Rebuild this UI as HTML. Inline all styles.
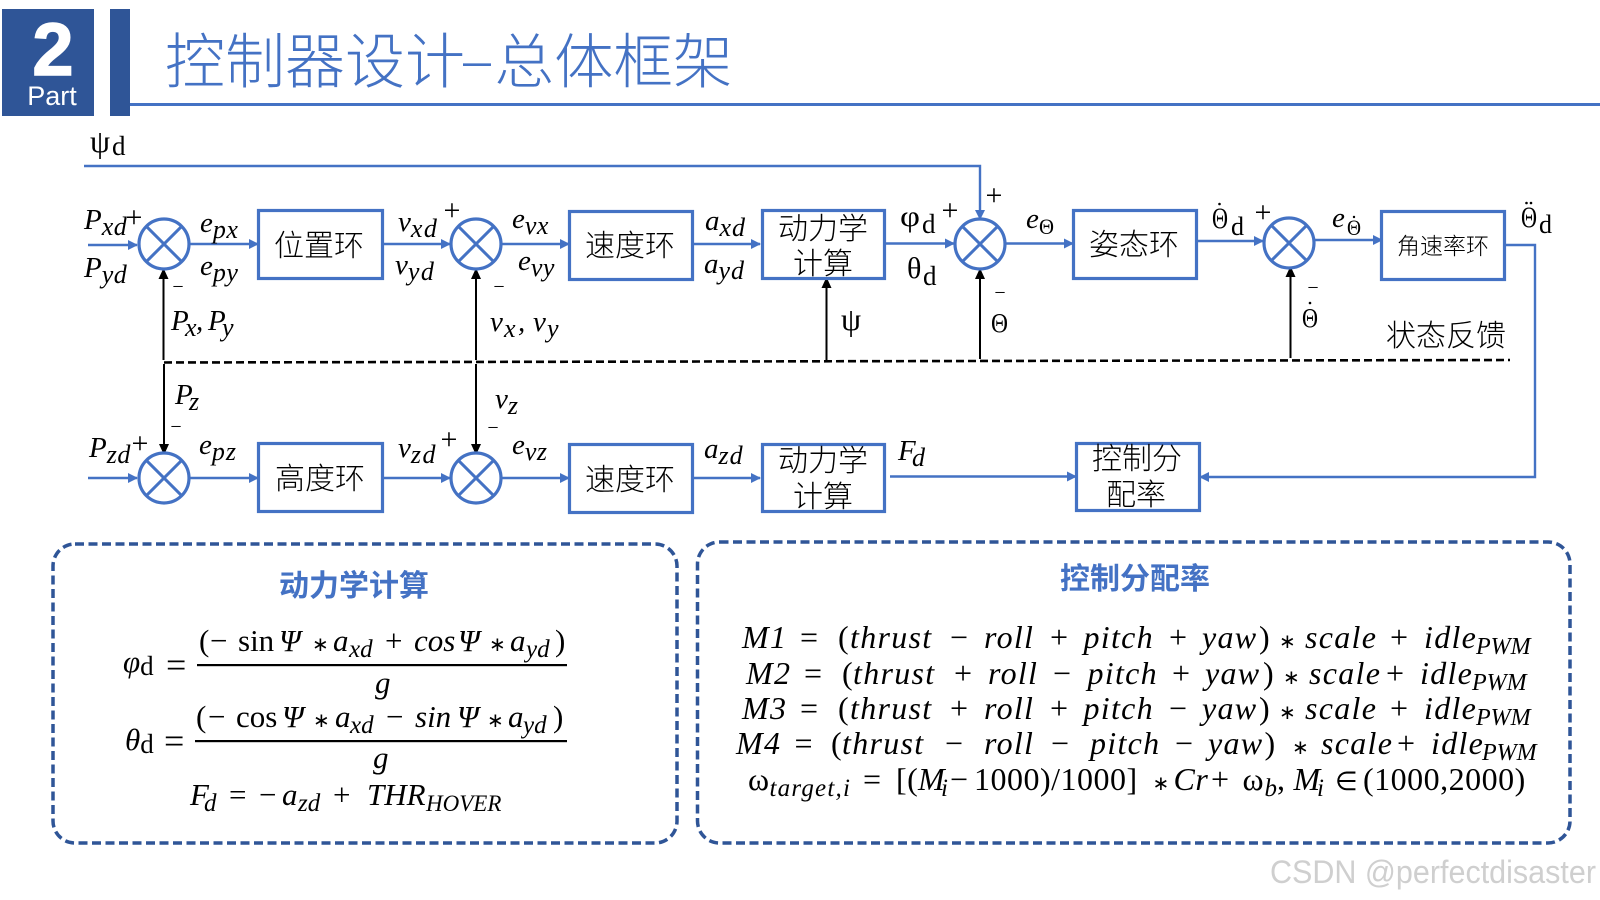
<!DOCTYPE html>
<html lang="zh">
<head>
<meta charset="utf-8">
<title>控制器设计-总体框架</title>
<style>
html,body{margin:0;padding:0;background:#fff;width:1600px;height:900px;overflow:hidden}
svg{display:block}
text{white-space:pre}
.m{font:italic 29px "Liberation Serif",serif;fill:#000}
.u{font:29px "Liberation Serif","DejaVu Serif",serif;fill:#000}
.s{font-size:26px;letter-spacing:.5px}
.c{font:300 30px "Noto Sans CJK SC","WenQuanYi Zen Hei",sans-serif;fill:#000;text-anchor:middle}
.t{font:bold 30px "Noto Sans CJK SC","WenQuanYi Zen Hei",sans-serif;fill:#4472C4;text-anchor:middle}
.e{font:italic 31px "Liberation Serif",serif;fill:#000}
.e .n{font-style:normal}
.e .s{font-size:25px;letter-spacing:0}
.e .a{font-style:normal;font-size:20px}
.r{font-size:32px;letter-spacing:1.3px}
.w{font-size:32px;letter-spacing:.5px}
.e .h{font-size:23px;letter-spacing:0}
.e .z{font-size:24px;letter-spacing:0}
.e .tg{font-size:25px;letter-spacing:1.2px}
.p{font:30px "Liberation Serif",serif;fill:#000;text-anchor:middle}
.q{font:20px "Liberation Serif",serif;fill:#000;text-anchor:middle}
.b{fill:#fff;stroke:#4472C4;stroke-width:3.2}
.l{fill:none;stroke:#4472C4;stroke-width:2.4}
.k{stroke:#000;stroke-width:2;fill:none}
.o{fill:#fff;stroke:#4472C4;stroke-width:3.2}
.x{stroke:#4472C4;stroke-width:3;fill:none}
</style>
</head>
<body>
<svg width="1600" height="900" viewBox="0 0 1600 900" xmlns="http://www.w3.org/2000/svg">
<defs>
<marker id="ab" markerWidth="10" markerHeight="10" refX="9" refY="5" orient="auto" markerUnits="userSpaceOnUse"><path d="M0 0L10 5L0 10Z" fill="#4472C4"/></marker>
<marker id="ak" markerWidth="10" markerHeight="12" refX="9" refY="5" orient="auto" markerUnits="userSpaceOnUse"><path d="M0 0L11 5L0 10Z" fill="#000"/></marker>
</defs>

<!-- header -->
<rect x="2" y="9" width="92" height="107" fill="#2F5597"/>
<rect x="110" y="9" width="20" height="107" fill="#2F5597"/>
<rect x="130" y="103" width="1470" height="3" fill="#4472C4"/>
<text x="53" y="75" text-anchor="middle" style="font:bold 74px 'Liberation Sans',sans-serif;fill:#fff;stroke:#fff;stroke-width:1.500">2</text>
<text x="52" y="105" text-anchor="middle" style="font:27px 'Liberation Sans',sans-serif;fill:#fff">Part</text>
<text x="165" y="83" style="font:300 60px 'Noto Sans CJK SC','WenQuanYi Zen Hei',sans-serif;fill:#4472C4">控制器设计</text>
<text x="463" y="75" textLength="28" lengthAdjust="spacingAndGlyphs" style="font:300 40px 'Liberation Sans',sans-serif;fill:#4472C4">–</text>
<text x="494.500" y="83" style="font:300 59.500px 'Noto Sans CJK SC','WenQuanYi Zen Hei',sans-serif;fill:#4472C4">总体框架</text>

<!-- blue connectors -->
<path class="l" d="M84 166H980V219" marker-end="url(#ab)"/>
<path class="l" d="M88 245H137" marker-end="url(#ab)"/>
<path class="l" d="M190 244H258" marker-end="url(#ab)"/>
<path class="l" d="M383 244H450" marker-end="url(#ab)"/>
<path class="l" d="M502 244H569" marker-end="url(#ab)"/>
<path class="l" d="M693 244H760" marker-end="url(#ab)"/>
<path class="l" d="M885 243.500H954" marker-end="url(#ab)"/>
<path class="l" d="M1006 243.500H1073" marker-end="url(#ab)"/>
<path class="l" d="M1197 241H1263" marker-end="url(#ab)"/>
<path class="l" d="M1315 240H1382" marker-end="url(#ab)"/>
<path class="l" d="M1505 245H1535V477H1200" marker-end="url(#ab)"/>
<path class="l" d="M88 478H137" marker-end="url(#ab)"/>
<path class="l" d="M190 478H258" marker-end="url(#ab)"/>
<path class="l" d="M383 478H450" marker-end="url(#ab)"/>
<path class="l" d="M502 478H569" marker-end="url(#ab)"/>
<path class="l" d="M693 478H760" marker-end="url(#ab)"/>
<path class="l" d="M890 476.500H1076" marker-end="url(#ab)"/>

<!-- black feedback -->
<path class="k" d="M163.500 360V270" marker-end="url(#ak)"/>
<path class="k" d="M476 360V270" marker-end="url(#ak)"/>
<path class="k" d="M826.500 360V279" marker-end="url(#ak)"/>
<path class="k" d="M980 359V270" marker-end="url(#ak)"/>
<path class="k" d="M1290.500 358V268" marker-end="url(#ak)"/>
<path class="k" d="M164 364V453" marker-end="url(#ak)"/>
<path class="k" d="M476 364V453" marker-end="url(#ak)"/>
<path d="M164 362.500L1510 360" stroke="#000" stroke-width="2.600" stroke-dasharray="8 4" fill="none"/>

<!-- summing junctions -->
<g>
<circle class="o" cx="164" cy="244" r="25"/><path class="x" d="M146.300 226.300L181.700 261.700M181.700 226.300L146.300 261.700"/>
<circle class="o" cx="476" cy="244" r="25"/><path class="x" d="M458.300 226.300L493.700 261.700M493.700 226.300L458.300 261.700"/>
<circle class="o" cx="980" cy="244" r="25"/><path class="x" d="M962.300 226.300L997.700 261.700M997.700 226.300L962.300 261.700"/>
<circle class="o" cx="1289" cy="243" r="25"/><path class="x" d="M1271.300 225.300L1306.700 260.700M1306.700 225.300L1271.300 260.700"/>
<circle class="o" cx="164" cy="478" r="25"/><path class="x" d="M146.300 460.300L181.700 495.700M181.700 460.300L146.300 495.700"/>
<circle class="o" cx="476" cy="478" r="25"/><path class="x" d="M458.300 460.300L493.700 495.700M493.700 460.300L458.300 495.700"/>
</g>

<!-- blocks -->
<rect class="b" x="258.500" y="210.500" width="124" height="68"/>
<rect class="b" x="569.500" y="211.500" width="123" height="68"/>
<rect class="b" x="762.500" y="210.500" width="122" height="68"/>
<rect class="b" x="1073.500" y="210.500" width="123" height="68"/>
<rect class="b" x="1381.500" y="211.500" width="123" height="68"/>
<rect class="b" x="258.500" y="443.500" width="124" height="68"/>
<rect class="b" x="569.500" y="444.500" width="123" height="68"/>
<rect class="b" x="762.500" y="444.500" width="122" height="67"/>
<rect class="b" x="1076.500" y="443.500" width="123" height="67"/>

<text class="c" x="319" y="256">位置环</text>
<text class="c" x="630" y="256">速度环</text>
<text class="c" x="823" y="239">动力学</text>
<text class="c" x="823" y="274">计算</text>
<text class="c" x="1134" y="255">姿态环</text>
<text class="c" x="1443" y="254" style="font-size:23px">角速率环</text>
<text class="c" x="320" y="489">高度环</text>
<text class="c" x="630" y="490">速度环</text>
<text class="c" x="823" y="471">动力学</text>
<text class="c" x="823" y="507">计算</text>
<text class="c" x="1137" y="469">控制分</text>
<text class="c" x="1136" y="505">配率</text>
<text class="c" x="1446" y="346">状态反馈</text>

<!-- plus / minus -->
<text class="p" x="134" y="227">+</text>
<text class="p" x="452" y="220">+</text>
<text class="p" x="950" y="220">+</text>
<text class="p" x="994" y="205">+</text>
<text class="p" x="1263" y="222">+</text>
<text class="p" x="140" y="453">+</text>
<text class="p" x="449" y="449">+</text>
<text class="q" x="178" y="293">−</text>
<text class="q" x="499" y="293">−</text>
<text class="q" x="1000" y="299">−</text>
<text class="q" x="1313" y="294">−</text>
<text class="q" x="176" y="433">−</text>
<text class="q" x="493" y="434">−</text>

<!-- signal labels -->
<text class="u" x="90" y="152" style="font-size:32px">ψ</text>
<text class="u" x="112" y="155" style="font-size:27px">d</text>
<text class="m" x="84" y="229">P<tspan class="s" dy="6">xd</tspan></text>
<text class="m" x="84" y="277">P<tspan class="s" dy="6">yd</tspan></text>
<text class="m" x="200" y="232">e<tspan class="s" dy="6">px</tspan></text>
<text class="m" x="200" y="275">e<tspan class="s" dy="6">py</tspan></text>
<text class="m" x="398" y="231">v<tspan class="s" dy="6" style="letter-spacing:1.500px">xd</tspan></text>
<text class="m" x="395" y="274">v<tspan class="s" dy="6" style="letter-spacing:1.500px">yd</tspan></text>
<text class="m" x="512" y="228">e<tspan class="s" dy="6">vx</tspan></text>
<text class="m" x="518" y="270">e<tspan class="s" dy="6">vy</tspan></text>
<text class="m" x="705" y="230">a<tspan class="s" dy="6" style="letter-spacing:1px">xd</tspan></text>
<text class="m" x="704" y="273">a<tspan class="s" dy="6" style="letter-spacing:1px">yd</tspan></text>

<text class="u" x="900" y="226" textLength="20" lengthAdjust="spacingAndGlyphs" style="font-size:30px">φ</text>
<text class="u" x="922" y="233" style="font-size:27px">d</text>
<text class="u" x="907" y="278" style="font-size:30px">θ</text>
<text class="u" x="923" y="285" style="font-size:27px">d</text>

<text class="m" x="1026" y="228">e</text>
<text class="u" x="1039" y="234" textLength="15" lengthAdjust="spacingAndGlyphs" style="font-size:22px">Θ</text>

<text class="u" x="1212" y="228" textLength="16" lengthAdjust="spacingAndGlyphs" style="font-size:30px">Θ</text>
<circle cx="1219.500" cy="204" r="1.300"/>
<text class="u" x="1231" y="235" style="font-size:26px">d</text>

<text class="m" x="1332" y="227">e</text>
<text class="u" x="1347" y="235" textLength="14" lengthAdjust="spacingAndGlyphs" style="font-size:22px">Θ</text>
<circle cx="1354" cy="217" r="1.200"/>

<text class="u" x="1521" y="227" textLength="16" lengthAdjust="spacingAndGlyphs" style="font-size:30px">Θ</text>
<circle cx="1526.500" cy="203" r="1.300"/><circle cx="1531" cy="203" r="1.300"/>
<text class="u" x="1539" y="233" style="font-size:26px">d</text>

<text class="u" x="841" y="330" style="font-size:32px">ψ</text>
<text class="u" x="991" y="332" textLength="17" lengthAdjust="spacingAndGlyphs" style="font-size:27px">Θ</text>
<text class="u" x="1302" y="327" textLength="16" lengthAdjust="spacingAndGlyphs" style="font-size:27px">Θ</text>
<circle cx="1310" cy="303" r="1.300"/>

<text class="m" y="330"><tspan x="171">P</tspan><tspan x="185" y="336" class="s">x</tspan><tspan x="196" y="330">,</tspan><tspan x="208">P</tspan><tspan x="222" y="336" class="s">y</tspan></text>
<text class="m" y="331"><tspan x="490">v</tspan><tspan x="504" y="337" class="s">x</tspan><tspan x="518" y="331">,</tspan><tspan x="533">v</tspan><tspan x="547" y="337" class="s">y</tspan></text>
<text class="m" x="175" y="404">P<tspan class="s" dy="6" x="189">z</tspan></text>
<text class="m" x="495" y="408">v<tspan class="s" dy="6">z</tspan></text>
<text class="m" x="89" y="457">P<tspan class="s" dy="6">zd</tspan></text>
<text class="m" x="199" y="454">e<tspan class="s" dy="6" style="letter-spacing:1px">pz</tspan></text>
<text class="m" x="398" y="457">v<tspan class="s" dy="6" style="letter-spacing:1.500px">zd</tspan></text>
<text class="m" x="512" y="454">e<tspan class="s" dy="6">vz</tspan></text>
<text class="m" x="704" y="458">a<tspan class="s" dy="6" style="letter-spacing:1px">zd</tspan></text>
<text class="m" x="898" y="460">F<tspan class="s" dy="6" x="912">d</tspan></text>

<!-- panels -->
<rect x="53" y="544" width="624" height="299" rx="22" fill="none" stroke="#2F5597" stroke-width="3.500" stroke-dasharray="9 4.500"/>
<rect x="697.500" y="542" width="872.500" height="301" rx="22" fill="none" stroke="#2F5597" stroke-width="3.500" stroke-dasharray="9 4.500"/>
<text class="t" x="354" y="596">动力学计算</text>
<text class="t" x="1135" y="589">控制分配率</text>

<!-- left equations -->
<text class="e" x="123" y="672">φ<tspan class="s" dy="3" style="font-style:normal;font-size:27px">d</tspan></text>
<text class="e" x="166" y="677" style="font-style:normal;font-size:36px">=</text>
<rect x="197" y="664" width="370" height="2.200"/>
<text class="e" y="651"><tspan class="n" x="199">(</tspan><tspan class="n" x="210">−</tspan><tspan class="n" x="238">sin</tspan><tspan x="279">Ψ</tspan><tspan class="a" x="312">∗</tspan><tspan x="333">a</tspan><tspan class="s" x="349" y="657">xd</tspan><tspan class="n" x="385" y="651">+</tspan><tspan x="414">cos</tspan><tspan x="458">Ψ</tspan><tspan class="a" x="489">∗</tspan><tspan x="510">a</tspan><tspan class="s" x="526" y="657">yd</tspan><tspan class="n" x="555" y="651">)</tspan></text>
<text class="e" x="375" y="693">g</text>
<text class="e" x="125" y="750">θ<tspan class="s" dy="3" style="font-style:normal;font-size:27px">d</tspan></text>
<text class="e" x="164" y="753" style="font-style:normal;font-size:36px">=</text>
<rect x="195" y="740" width="372" height="2.200"/>
<text class="e" y="727"><tspan class="n" x="196">(</tspan><tspan class="n" x="208">−</tspan><tspan class="n" x="236">cos</tspan><tspan x="282">Ψ</tspan><tspan class="a" x="313">∗</tspan><tspan x="335">a</tspan><tspan class="s" x="350" y="733">xd</tspan><tspan class="n" x="386" y="727">−</tspan><tspan x="415">sin</tspan><tspan x="457">Ψ</tspan><tspan class="a" x="487">∗</tspan><tspan x="508">a</tspan><tspan class="s" x="523" y="733">yd</tspan><tspan class="n" x="553" y="727">)</tspan></text>
<text class="e" x="373" y="768">g</text>
<text class="e" y="805"><tspan x="190">F</tspan><tspan class="s" x="204" y="811">d</tspan><tspan class="n" x="229" y="805">=</tspan><tspan class="n" x="259">−</tspan><tspan x="282">a</tspan><tspan class="s" x="298" y="811">zd</tspan><tspan class="n" x="333" y="805">+</tspan><tspan x="367">THR</tspan><tspan class="h" x="426" y="811">HOVER</tspan></text>

<!-- right equations -->
<text class="e r" y="648"><tspan x="742">M1</tspan><tspan class="n" x="800">=</tspan><tspan class="n" x="838">(</tspan><tspan x="850">thrust</tspan><tspan class="n" x="950">−</tspan><tspan x="984">roll</tspan><tspan class="n" x="1050">+</tspan><tspan x="1083.500">pitch</tspan><tspan class="n" x="1169">+</tspan><tspan x="1202">yaw</tspan><tspan class="n" x="1259">)</tspan><tspan class="a" x="1279">∗</tspan><tspan x="1305">scale</tspan><tspan class="n" x="1390">+</tspan><tspan x="1424">idle</tspan><tspan class="z" x="1476" y="654">PWM</tspan></text>
<text class="e r" y="684"><tspan x="746">M2</tspan><tspan class="n" x="804">=</tspan><tspan class="n" x="842">(</tspan><tspan x="853">thrust</tspan><tspan class="n" x="954">+</tspan><tspan x="988">roll</tspan><tspan class="n" x="1053">−</tspan><tspan x="1087.500">pitch</tspan><tspan class="n" x="1172">+</tspan><tspan x="1205">yaw</tspan><tspan class="n" x="1263">)</tspan><tspan class="a" x="1283">∗</tspan><tspan x="1309">scale</tspan><tspan class="n" x="1386">+</tspan><tspan x="1420">idle</tspan><tspan class="z" x="1472" y="690">PWM</tspan></text>
<text class="e r" y="719"><tspan x="742">M3</tspan><tspan class="n" x="800">=</tspan><tspan class="n" x="838">(</tspan><tspan x="850">thrust</tspan><tspan class="n" x="950">+</tspan><tspan x="984">roll</tspan><tspan class="n" x="1050">+</tspan><tspan x="1083.500">pitch</tspan><tspan class="n" x="1169">−</tspan><tspan x="1202">yaw</tspan><tspan class="n" x="1259">)</tspan><tspan class="a" x="1279">∗</tspan><tspan x="1305">scale</tspan><tspan class="n" x="1390">+</tspan><tspan x="1424">idle</tspan><tspan class="z" x="1476" y="725">PWM</tspan></text>
<text class="e r" y="754"><tspan x="736">M4</tspan><tspan class="n" x="794.500">=</tspan><tspan class="n" x="831">(</tspan><tspan x="842">thrust</tspan><tspan class="n" x="945">−</tspan><tspan x="984">roll</tspan><tspan class="n" x="1051">−</tspan><tspan x="1090">pitch</tspan><tspan class="n" x="1175">−</tspan><tspan x="1208">yaw</tspan><tspan class="n" x="1264.500">)</tspan><tspan class="a" x="1292">∗</tspan><tspan x="1321">scale</tspan><tspan class="n" x="1397">+</tspan><tspan x="1431">idle</tspan><tspan class="z" x="1482" y="760">PWM</tspan></text>
<text class="e w" y="790"><tspan class="n" x="748">ω</tspan><tspan class="tg" x="769.500" y="796">target,i</tspan><tspan class="n" x="863" y="790">=</tspan><tspan class="n" x="896">[(</tspan><tspan x="918">M</tspan><tspan class="s" x="941" y="796">i</tspan><tspan class="n" x="950" y="790">−</tspan><tspan class="n" x="974">1000)/1000]</tspan><tspan class="a" x="1152.500">∗</tspan><tspan x="1173.500">Cr</tspan><tspan class="n" x="1211">+</tspan><tspan class="n" x="1242.500">ω</tspan><tspan class="s" x="1264.500" y="796">b</tspan><tspan class="n" x="1277" y="790">,</tspan><tspan x="1293.500">M</tspan><tspan class="s" x="1317" y="796">i</tspan><tspan class="n" x="1335" y="790" style="font-size:26px">∈</tspan><tspan class="n" x="1363">(1000,2000)</tspan></text>

<!-- watermark -->
<text x="1270" y="883" textLength="326" lengthAdjust="spacingAndGlyphs" style="font:32px 'Liberation Sans',sans-serif;fill:#cfcfcf">CSDN @perfectdisaster</text>
</svg>
</body>
</html>
